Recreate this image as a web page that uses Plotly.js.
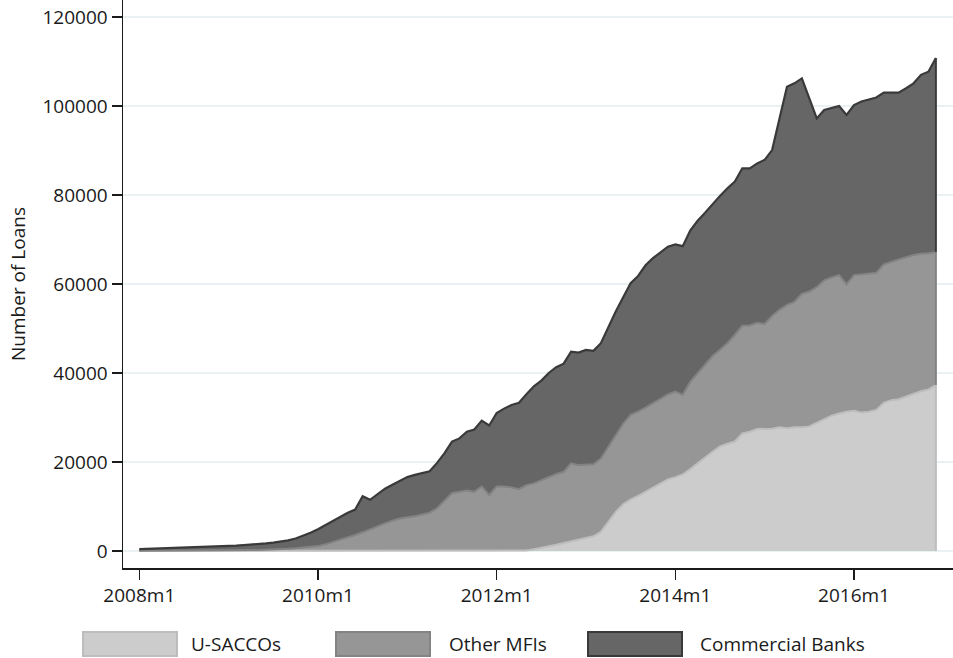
<!DOCTYPE html>
<html>
<head>
<meta charset="utf-8">
<script src="https://cdn.plot.ly/plotly-3.0.1.min.js"></script>
<style>
  html, body { margin: 0; padding: 0; background: #ffffff; }
  #chart { width: 953px; height: 658px; }
</style>
</head>
<body>
<div id="chart"></div>
<script>
// Monthly periods, 2008m1 .. 2016m12
const years = [2008, 2009, 2010, 2011, 2012, 2013, 2014, 2015, 2016];
const months = [];
years.forEach(y => { for (let m = 1; m <= 12; m++) months.push(y + 'm' + m); });

const tickLabels = ['2008m1', '2010m1', '2012m1', '2014m1', '2016m1'];
const yTicks = [0, 20000, 40000, 60000, 80000, 100000, 120000];

// Number of loans by lender type
const uSaccos = [
  0, 0, 0, 0, 0, 0, 0, 0, 0, 0, 0, 0,
  0, 0, 0, 0, 0, 0, 0, 0, 0, 0, 0, 0,
  0, 0, 0, 0, 0, 0, 0, 0, 0, 0, 0, 0,
  0, 0, 0, 0, 0, 0, 0, 0, 0, 0, 0, 0,
  0, 0, 0, 0, 100, 400, 700, 1000, 1400, 1800, 2200, 2600,
  3000, 3300, 4300, 6500, 8800, 10500, 11600, 12400, 13300, 14300, 15200, 16100,
  16600, 17200, 18400, 19600, 21000, 22300, 23500, 24100, 24600, 26400, 26800, 27400,
  27400, 27500, 27800, 27600, 27800, 27800, 28000, 28800, 29700, 30400, 30900, 31300,
  31500, 31100, 31300, 31700, 33300, 33900, 34100, 34700, 35400, 35900, 36300, 37300
];

const otherMfis = [
  50, 50, 60, 70, 80, 90, 100, 100, 110, 120, 130, 140,
  150, 160, 180, 200, 220, 250, 300, 380, 480, 600, 750, 900,
  1100, 1500, 2000, 2500, 3000, 3600, 4200, 4900, 5500, 6200, 6800, 7300,
  7600, 7800, 8200, 8600, 9600, 11200, 13000, 13300, 13600, 13300, 14500, 12600,
  14500, 14500, 14300, 13900, 14700, 14800, 15200, 15500, 15900, 16000, 17500, 16700,
  16400, 16200, 16500, 17000, 17200, 18100, 19000, 18900, 18900, 18900, 19000, 19100,
  19200, 17900, 19600, 20400, 21000, 21500, 21700, 22600, 24000, 24200, 23900, 23900,
  23600, 25300, 26400, 27700, 28200, 30000, 30300, 30500, 31100, 31100, 31100, 28600,
  30500, 31100, 31000, 30800, 31100, 31100, 31400, 31300, 31100, 30900, 30600, 29900
];

const commercialBanks = [
  350, 400, 440, 480, 520, 560, 600, 650, 690, 730, 770, 860,
  950, 1040, 1120, 1200, 1330, 1450, 1600, 1720, 1920, 2200, 2650, 3200,
  3800, 4300, 4700, 5100, 5600, 5700, 8100, 6600, 7200, 7800, 8100, 8400,
  9000, 9300, 9300, 9300, 10200, 10800, 11600, 12000, 13200, 14000, 14800, 15600,
  16500, 17500, 18500, 19400, 20400, 21800, 22400, 23500, 24000, 24300, 25100, 25300,
  25800, 25500, 25900, 26800, 27800, 28400, 29600, 30500, 32000, 32600, 33000, 33200,
  33100, 33400, 34000, 34200, 34000, 34200, 34600, 34800, 34400, 35400, 35300, 35800,
  36900, 37300, 42800, 49000, 49100, 48400, 43400, 37900, 38300, 38000, 38000, 38100,
  38200, 38800, 39100, 39400, 38600, 38000, 37500, 38000, 38600, 40200, 40800, 43600
];

const seriesNames = ['U-SACCOs', 'Other MFIs', 'Commercial Banks'];
const fillColors = ['#cccccc', '#969696', '#666666'];
const lineColors = ['#bdbdbd', '#838383', '#3a3a3a'];
const seriesValues = [uSaccos, otherMfis, commercialBanks];

const FONT = '"Open Sans", "Noto Sans", sans-serif';
const TXT = '#1a1a1a';

const traces = seriesValues.map((vals, i) => ({
  type: 'scatter',
  mode: 'lines',
  x: months,
  y: vals,
  name: seriesNames[i],
  stackgroup: 'loans',
  fill: 'tonexty',
  fillcolor: fillColors[i],
  line: { color: lineColors[i], width: i === 2 ? 2.2 : 2, shape: 'linear' },
  hoverinfo: 'x+y+name',
  showlegend: false
}));

// Closing edge of each stacked band at the last month
const last = months.length - 1;
const edgeShapes = [];
let base = 0;
seriesValues.forEach((vals, i) => {
  const top = base + vals[last];
  edgeShapes.push({
    type: 'line', xref: 'x', yref: 'y',
    x0: months[last], x1: months[last], y0: base, y1: top,
    line: { color: lineColors[i], width: 2 }
  });
  base = top;
});

// Legend drawn as wide swatches below the plot
const PLOT_L = 123, PLOT_W = 830, PLOT_B = 568;
const legendBoxes = [[83, 177], [336, 430], [588, 682]];
const legendTextX = [189, 447, 698];
const legendShapes = legendBoxes.map((b, i) => ({
  type: 'rect', xref: 'paper', yref: 'paper',
  x0: (b[0] - PLOT_L) / PLOT_W, x1: (b[1] - PLOT_L) / PLOT_W,
  y0: -(656 - PLOT_B) / PLOT_B, y1: -(632 - PLOT_B) / PLOT_B,
  fillcolor: fillColors[i],
  line: { color: lineColors[i], width: 2 }
}));
const annotations = seriesNames.map((n, i) => ({
  xref: 'paper', yref: 'paper',
  x: (legendTextX[i] - PLOT_L) / PLOT_W, y: -(644 - PLOT_B) / PLOT_B,
  xanchor: 'left', yanchor: 'middle',
  text: n, showarrow: false,
  font: { family: FONT, size: 19, color: TXT }
}));

const layout = {
  width: 953,
  height: 658,
  margin: { l: PLOT_L, r: 0, t: 0, b: 658 - PLOT_B, pad: 0 },
  paper_bgcolor: '#ffffff',
  plot_bgcolor: '#ffffff',
  showlegend: false,
  font: { family: FONT, size: 19, color: TXT },
  xaxis: {
    type: 'category',
    range: [-2.19, 109.3],
    tickmode: 'array',
    tickvals: tickLabels,
    ticktext: tickLabels,
    ticks: 'outside',
    ticklen: 10,
    tickwidth: 1.5,
    tickcolor: TXT,
    showline: true,
    linecolor: TXT,
    linewidth: 1.5,
    showgrid: false,
    zeroline: false,
    tickfont: { family: FONT, size: 19, color: TXT }
  },
  yaxis: {
    range: [-3820, 123820],
    tickmode: 'array',
    tickvals: yTicks,
    ticktext: yTicks.map(String),
    ticks: 'outside',
    ticklen: 10,
    tickwidth: 1.5,
    tickcolor: TXT,
    showline: true,
    linecolor: TXT,
    linewidth: 1.5,
    showgrid: true,
    gridcolor: '#eaf1f3',
    gridwidth: 1.5,
    zeroline: false,
    tickfont: { family: FONT, size: 19, color: TXT },
    title: { text: 'Number of Loans', font: { family: FONT, size: 19, color: TXT }, standoff: 12 }
  },
  shapes: edgeShapes.concat(legendShapes),
  annotations: annotations
};

Plotly.newPlot('chart', traces, layout, { displayModeBar: false, staticPlot: true });
</script>
</body>
</html>
